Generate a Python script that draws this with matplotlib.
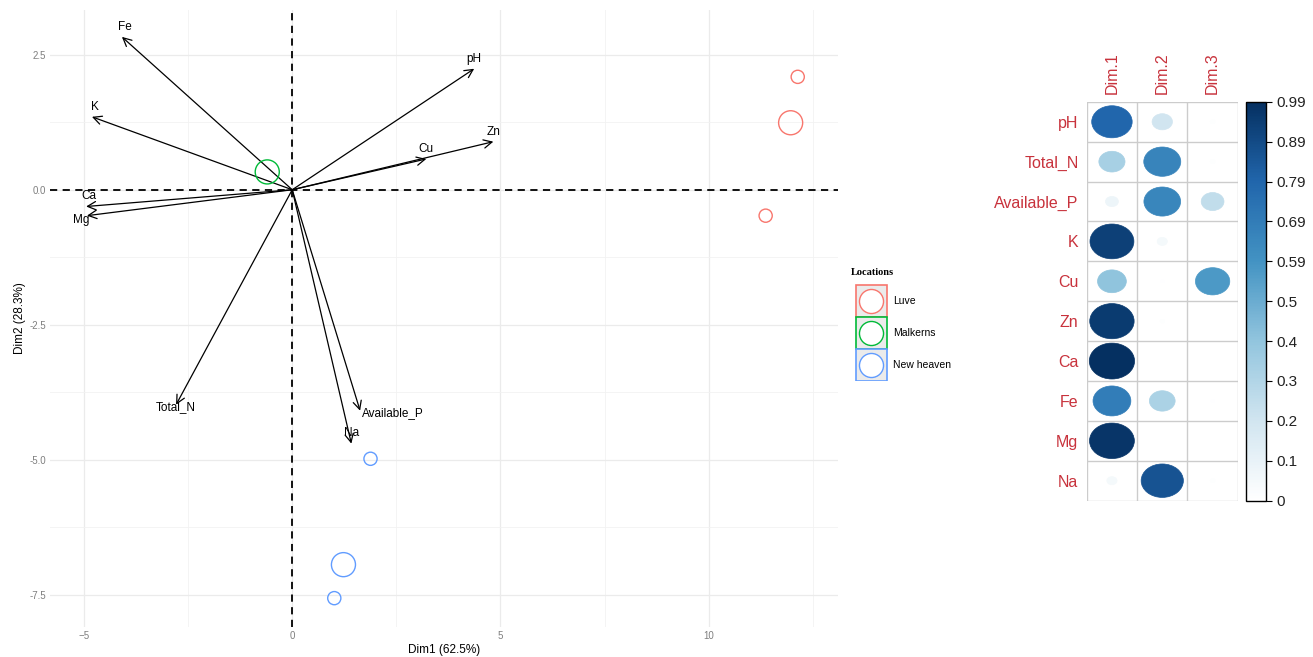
import numpy as np
import matplotlib.pyplot as plt
from matplotlib.patches import Rectangle, Ellipse
from matplotlib.colors import LinearSegmentedColormap, Normalize
from matplotlib.cm import ScalarMappable

plt.rcParams['font.family'] = ['Liberation Sans', 'DejaVu Sans']

# variables on the biplot (Dim1, Dim2)
var_names = ['pH', 'Total_N', 'Available_P', 'K', 'Cu', 'Zn', 'Ca', 'Fe', 'Mg', 'Na']
var_dim1 = [4.37, -2.79, 1.63, -4.81, 3.22, 4.83, -4.95, -4.09, -4.93, 1.42]
var_dim2 = [2.24, -3.98, -4.09, 1.35, 0.57, 0.89, -0.31, 2.83, -0.48, -4.70]

# individuals
locations = ['Luve', 'Malkerns', 'New heaven']
ind_loc = ['Luve', 'Luve', 'Luve', 'Malkerns', 'New heaven', 'New heaven', 'New heaven']
ind_dim1 = [12.14, 11.97, 11.37, -0.60, 1.88, 1.23, 1.01]
ind_dim2 = [2.09, 1.24, -0.48, 0.33, -4.98, -6.94, -7.56]
ind_weight = [1, 2, 1, 2, 1, 2, 1]

# cos2 of variables on the first three dimensions
dims = ['Dim.1', 'Dim.2', 'Dim.3']
cos2_dim1 = [0.79, 0.33, 0.08, 0.93, 0.40, 0.95, 0.99, 0.69, 0.97, 0.05]
cos2_dim2 = [0.20, 0.66, 0.65, 0.05, 0.005, 0.008, 0.0, 0.32, 0.0, 0.86]
cos2_dim3 = [0.01, 0.01, 0.25, 0.0, 0.57, 0.0, 0.0, 0.005, 0.0, 0.01]
cbar_labels = ['0', '0.1', '0.2', '0.3', '0.4', '0.5', '0.59', '0.69', '0.79', '0.89', '0.99']

loc_colors = {'Luve': '#F8766D', 'Malkerns': '#00BA38', 'New heaven': '#619CFF'}

# where each arrow label sits relative to its tip (points)
lab_off = {'pH': (0, 3, 'center', 'bottom'), 'Total_N': (0, -2, 'center', 'center'),
           'Available_P': (1, -2, 'left', 'center'), 'K': (2, 3, 'center', 'bottom'),
           'Cu': (0, 3, 'center', 'bottom'), 'Zn': (0, 3, 'center', 'bottom'),
           'Ca': (2, 3, 'center', 'bottom'), 'Fe': (2, 3, 'center', 'bottom'),
           'Mg': (-4, -3, 'center', 'center'), 'Na': (0, 3, 'center', 'bottom')}

fig = plt.figure(figsize=(13.13, 6.57), dpi=100)
fig.patch.set_facecolor('white')

# ---- biplot ----
ax = fig.add_axes([0.038, 0.046, 0.600, 0.939])
ax.set_facecolor('white')
ax.set_xlim(-5.82, 13.1)
ax.set_ylim(-8.09, 3.33)
ax.set_xticks([-5, 0, 5, 10])
ax.set_yticks([2.5, 0.0, -2.5, -5.0, -7.5])
ax.set_yticklabels(['2.5', '0.0', '-2.5', '-5.0', '-7.5'])
ax.set_xticks(np.arange(-5, 13.1, 2.5), minor=True)
ax.set_yticks(np.arange(-6.25, 3.3, 2.5), minor=True)
ax.grid(True, which='major', color='#EBEBEB', lw=0.9)
ax.grid(True, which='minor', color='#F2F2F2', lw=0.6)
ax.set_axisbelow(True)
ax.tick_params(which='both', length=0, labelsize=7, labelcolor='#7F7F7F', pad=3)
for s in ax.spines.values():
    s.set_visible(False)
ax.axhline(0, color='black', ls=(0, (4, 3)), lw=1.3, zorder=1)
ax.axvline(0, color='black', ls=(0, (4, 3)), lw=1.3, zorder=1)
ax.set_xlabel('Dim1 (62.5%)', fontsize=8.5, labelpad=2)
ax.set_ylabel('Dim2 (28.3%)', fontsize=8.5, labelpad=2)

for name, x, y in zip(var_names, var_dim1, var_dim2):
    ax.annotate('', xy=(x, y), xytext=(0, 0),
                arrowprops=dict(arrowstyle='->,head_length=0.6,head_width=0.3',
                                color='black', lw=0.9, shrinkA=0, shrinkB=0))
    dx, dy, ha, va = lab_off[name]
    ax.annotate(name, xy=(x, y), xytext=(dx, dy), textcoords='offset points',
                ha=ha, va=va, fontsize=8.5, color='black')

for loc in locations:
    idx = [i for i, l in enumerate(ind_loc) if l == loc]
    ax.scatter([ind_dim1[i] for i in idx], [ind_dim2[i] for i in idx],
               s=[90 if ind_weight[i] == 1 else 300 for i in idx],
               facecolors='none', edgecolors=loc_colors[loc], linewidths=1.0, zorder=3)

# ---- legend ----
lax = fig.add_axes([0.645, 0.42, 0.09, 0.19])
lax.set_xlim(0, 118)
lax.set_ylim(125, 0)
lax.axis('off')
lax.text(4, 16, 'Locations', fontsize=7.5, fontweight='bold',
         family=['Liberation Serif', 'DejaVu Serif'], va='center')
for k, loc in enumerate(locations):
    y0 = 29 + k * 32
    lax.add_patch(Rectangle((9, y0), 31, 32, facecolor='#EBEBEB',
                            edgecolor=loc_colors[loc], lw=1.2))
    lax.scatter([24.5], [y0 + 16], s=300, facecolors='white',
                edgecolors=loc_colors[loc], linewidths=1.0)
    lax.text(46, y0 + 16, loc, fontsize=7.5, va='center')

# ---- cos2 corrplot ----
colors = ['#FFFFFF', '#D1E5F0', '#92C5DE', '#4393C3', '#2166AC', '#053061']
cmap = LinearSegmentedColormap.from_list('cos2', colors)
norm = Normalize(0, 0.99)

cax = fig.add_axes([0.8277, 0.238, 0.115, 0.607])
cax.set_xlim(0, 3)
cax.set_ylim(10, 0)
vals = np.array([cos2_dim1, cos2_dim2, cos2_dim3]).T
for i in range(len(var_names)):
    for j in range(len(dims)):
        v = vals[i, j]
        d = 0.9 * np.sqrt(v / 0.99)
        if d > 0:
            cax.add_patch(Ellipse((j + 0.5, i + 0.5), d, d, facecolor=cmap(norm(v)),
                                  edgecolor=cmap(norm(v)), lw=0.5))
for k in range(len(var_names) + 1):
    cax.axhline(k, color='#CCCCCC', lw=1.0)
for k in range(len(dims) + 1):
    cax.axvline(k, color='#CCCCCC', lw=1.0)
for s in cax.spines.values():
    s.set_visible(False)
cax.set_xticks(np.arange(len(dims)) + 0.5)
cax.set_xticklabels(dims, rotation=90, color='#C8323C', fontsize=11.5)
cax.xaxis.tick_top()
cax.set_yticks(np.arange(len(var_names)) + 0.5)
cax.set_yticklabels(var_names, color='#C8323C', fontsize=11.5)
cax.tick_params(length=0, pad=6)

bax = fig.add_axes([0.949, 0.238, 0.015, 0.607])
cb = fig.colorbar(ScalarMappable(norm=norm, cmap=cmap), cax=bax)
cb.set_ticks(np.linspace(0, 0.99, 11))
cb.set_ticklabels(cbar_labels)
cb.outline.set_edgecolor('black')
cb.outline.set_linewidth(1.0)
bax.tick_params(labelsize=11, length=4, width=0.8, color='black', labelcolor='#222222', pad=4)

fig.savefig('out.png', dpi=100)
